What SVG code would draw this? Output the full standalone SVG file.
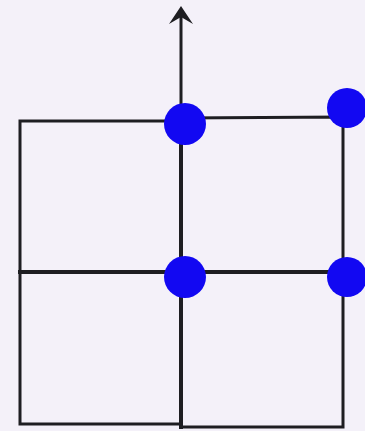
<svg xmlns="http://www.w3.org/2000/svg" width="365" height="431" viewBox="0 0 365 431">
<defs>
<style>
.ln{stroke:#1e1e22;stroke-width:3;fill:none;stroke-linecap:square}
.dot{fill:#1208f2}
</style>
<marker id="ah" markerWidth="10" markerHeight="10" refX="5" refY="5" orient="auto" markerUnits="userSpaceOnUse" viewBox="0 0 10 10">
<path d="M0,0 L10,5 L0,10 L3,5 Z" fill="#1e1e22"/>
</marker>
</defs>
<rect width="365" height="431" fill="#f4f1f9"/>
<g id="connectors">
<line class="ln" x1="181" y1="270" x2="181" y2="14"/>
<path d="M181,6 L169,24 L181,17 L193,24 Z" fill="#1e1e22"/>
</g>
<g id="grid">
<path class="ln" d="M20,121 L181,121 L181,424 L20,424 Z"/>
<path class="ln" d="M181,118 L343,117 L343,427 L181,427"/>
<line class="ln" x1="20" y1="272" x2="343" y2="272" style="stroke-width:4"/>
<line class="ln" x1="181" y1="121" x2="181" y2="427" style="stroke-width:4"/>
</g>
<g id="dot1"><circle class="dot" cx="185" cy="124" r="21"/></g>
<g id="dot2"><circle class="dot" cx="347" cy="108" r="20"/></g>
<g id="dot3"><circle class="dot" cx="185" cy="277" r="21"/></g>
<g id="dot4"><circle class="dot" cx="347" cy="277" r="20"/></g>
</svg>
